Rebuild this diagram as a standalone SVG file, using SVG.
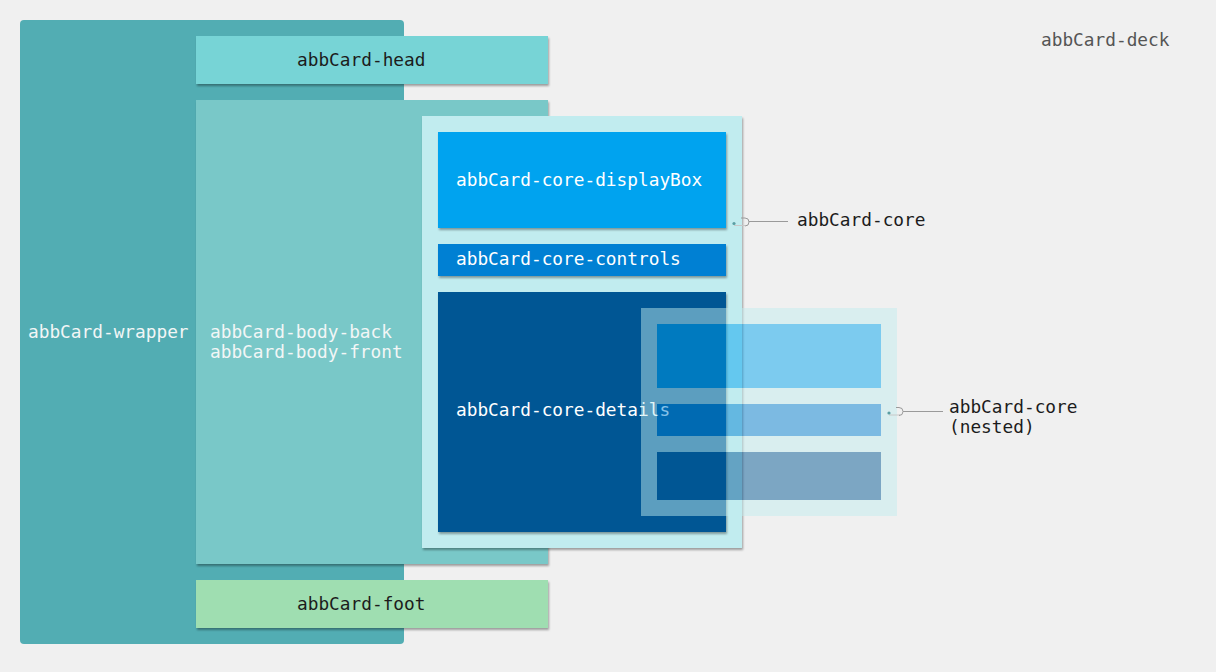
<svg xmlns="http://www.w3.org/2000/svg" width="1216" height="672" viewBox="0 0 1216 672">
<defs>
<filter id="sh" x="-5%" y="-5%" width="110%" height="115%">
<feDropShadow dx="1" dy="2" stdDeviation="1.2" flood-color="#000" flood-opacity="0.35"/>
</filter>
</defs>
<style>
text{font-family:"DejaVu Sans Mono","Liberation Mono",monospace;font-size:17.8px}
.dk{fill:#1c1c1c}
.wt{fill:#ffffff}
.lt{fill:#f2f6f6}
.hook{fill:none;stroke:#9a9a9a;stroke-width:1}
.hookl{fill:none;stroke:#c8c8c8;stroke-width:1}
.dot{fill:#5a9ea3}
</style>
<rect width="1216" height="672" fill="#f0f0f0"/>
<g id="wrapper">
<rect x="20" y="20" width="384" height="624" rx="4" fill="#52adb3"/>
<text x="28" y="338" class="lt">abbCard-wrapper</text>
</g>
<g id="head">
<rect x="196" y="36" width="352" height="48" fill="#77d4d6" filter="url(#sh)"/>
<text x="297" y="66" class="dk">abbCard-head</text>
</g>
<g id="body">
<rect x="196" y="100" width="352" height="464" fill="#79c8c8" filter="url(#sh)"/>
<text x="210" y="338" class="lt">abbCard-body-back</text>
<text x="210" y="358" class="lt">abbCard-body-front</text>
</g>
<g id="foot">
<rect x="196" y="580" width="352" height="48" fill="#9fdeb1" filter="url(#sh)"/>
<text x="297" y="610" class="dk">abbCard-foot</text>
</g>
<g id="core">
<rect x="422" y="116" width="320" height="432" fill="#c1ecef" filter="url(#sh)"/>
</g>
<g id="displayBox">
<rect x="438" y="132" width="288" height="96" fill="#00a3ef" filter="url(#sh)"/>
<text x="456" y="186" class="wt">abbCard-core-displayBox</text>
</g>
<g id="controls">
<rect x="438" y="244" width="288" height="32" fill="#0080d3" filter="url(#sh)"/>
<text x="456" y="265" class="wt">abbCard-core-controls</text>
</g>
<g id="details">
<rect x="438" y="292" width="288" height="240" fill="#005694" filter="url(#sh)"/>
<text x="456" y="416" class="wt">abbCard-core-details</text>
</g>
<g id="nested" opacity="0.48">
<rect x="641" y="308" width="256" height="208" fill="#c1ecef"/>
<rect x="657" y="324" width="224" height="64" fill="#00a3ef"/>
<rect x="657" y="404" width="224" height="32" fill="#0080d3"/>
<rect x="657" y="452" width="224" height="48" fill="#005694"/>
</g>
<g id="deck">
<text x="1041" y="46" fill="#555555">abbCard-deck</text>
</g>
<g id="connectors">
<path class="hookl" d="M734,225.5 H745"/>
<path class="hook" d="M741,218 H745 A4,4 0 0 1 745,226"/>
<path class="hook" d="M749,221.5 H788"/>
<circle class="dot" cx="734" cy="223.5" r="1.6"/>
<path class="hookl" d="M889,415 H900"/>
<path class="hook" d="M896,407.5 H899 A4,4 0 0 1 899,415.5"/>
<path class="hook" d="M903,411.5 H943"/>
<circle class="dot" cx="889" cy="413" r="1.6"/>
</g>
<g id="labels">
<text x="797" y="226" class="dk">abbCard-core</text>
<text x="949" y="413" class="dk">abbCard-core</text>
<text x="949" y="433" class="dk">(nested)</text>
</g>
</svg>
